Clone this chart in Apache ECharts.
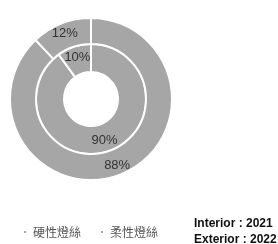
<!DOCTYPE html>
<html><head><meta charset="utf-8">
<script src="https://cdn.jsdelivr.net/npm/echarts@6/dist/echarts.min.js"></script>
<style>html,body{margin:0;padding:0;background:#fff}#c{width:278px;height:244px}</style>
</head><body><div id="c"></div>
<script>
const categories = ['硬性燈絲', '柔性燈絲'];
const interiorValues = [90, 10];   // 2021
const exteriorValues = [88, 12];   // 2022
const yearLabels = ['Interior : 2021', 'Exterior : 2022'];

const chart = echarts.init(document.getElementById('c'));
const gray = '#a6a6a6';
const mk = vals => categories.map((n, i) => ({ name: n, value: vals[i] }));
const labelCfg = {
  show: true, position: 'inside', formatter: '{c}%',
  color: '#333', fontSize: 13, fontFamily: 'Liberation Sans, Arial, sans-serif'
};
chart.setOption({
  animation: false,
  color: [gray, gray],
  title: {
    text: yearLabels.join('\n'), left: 189, top: 211,
    textStyle: { fontSize: 12, fontWeight: 'bold', color: '#111', lineHeight: 16,
      fontFamily: 'Liberation Sans, Arial, sans-serif' }
  },
  legend: {
    data: categories, left: 17, top: 221, itemWidth: 4, itemHeight: 4, itemGap: 18,
    icon: 'rect',
    textStyle: { fontSize: 12, color: '#555', padding: [0, 0, 0, 1],
      fontFamily: 'Noto Sans CJK TC, sans-serif' }
  },
  series: [
    { type: 'pie', center: [91, 99], radius: [27, 55], startAngle: 90, clockwise: true,
      data: mk(interiorValues), label: labelCfg, labelLine: { show: false },
      itemStyle: { borderColor: '#fff', borderWidth: 2 }, emphasis: { disabled: true } },
    { type: 'pie', center: [91, 99], radius: [55, 81], startAngle: 90, clockwise: true,
      data: mk(exteriorValues), label: labelCfg, labelLine: { show: false },
      itemStyle: { borderColor: '#fff', borderWidth: 2 }, emphasis: { disabled: true } }
  ]
});
</script></body></html>
